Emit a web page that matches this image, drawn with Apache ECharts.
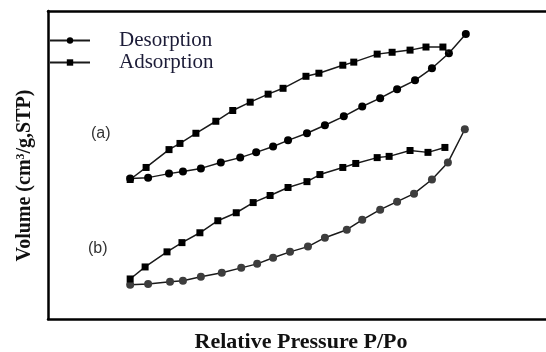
<!DOCTYPE html>
<html>
<head>
<meta charset="utf-8">
<script src="https://cdn.jsdelivr.net/npm/echarts@6/dist/echarts.min.js"></script>
<style>
html,body{margin:0;padding:0;background:#fff;}
#chart{width:546px;height:352px;}
</style>
</head>
<body>
<div id="chart"></div>
<script>
// Sample (a)
const aAdsX = [0.165,0.197,0.243,0.265,0.297,0.337,0.371,0.406,0.442,0.472,0.518,0.544,0.592,0.614,0.661,0.691,0.727,0.759,0.793,0.805];
const aAdsY = [45.3,49.2,55.0,57.0,60.3,64.2,67.7,70.4,73.0,74.9,78.8,79.8,82.4,83.4,86.0,86.6,87.3,88.3,88.3,86.3];
const aDesX = [0.165,0.201,0.243,0.271,0.307,0.347,0.386,0.418,0.452,0.482,0.520,0.556,0.594,0.631,0.667,0.701,0.737,0.771,0.805,0.839];
const aDesY = [45.6,45.9,47.2,47.9,48.9,50.8,52.4,54.1,56.0,58.0,60.3,62.9,65.8,69.0,71.7,74.6,77.5,81.4,86.3,92.5];
// Sample (b)
const bAdsX = [0.165,0.195,0.239,0.269,0.305,0.341,0.378,0.412,0.446,0.482,0.520,0.546,0.592,0.618,0.661,0.685,0.727,0.763,0.797];
const bAdsY = [13.0,16.9,21.8,24.8,28.0,31.9,34.5,37.8,40.1,42.7,44.6,46.9,49.2,50.5,52.4,52.8,54.7,54.1,55.7];
const bDesX = [0.165,0.201,0.245,0.271,0.307,0.349,0.388,0.420,0.452,0.486,0.522,0.556,0.600,0.631,0.667,0.701,0.735,0.771,0.803,0.837];
const bDesY = [11.1,11.4,12.1,12.4,13.7,15.0,16.6,17.9,19.9,21.8,23.5,26.4,29.0,32.2,35.5,38.1,40.7,45.3,50.8,61.6];

const legendNames = ['Desorption','Adsorption'];
const sampleLabels = ['(a)','(b)'];
const xTitle = 'Relative Pressure P/Po';

function pairs(xs, ys){ return xs.map((x,i)=>[x, ys[i]]); }

const chart = echarts.init(document.getElementById('chart'), null, {renderer:'canvas'});
const serif = 'Liberation Serif';
const lineC = '#1a1a1a';

function series(name, xs, ys, symbol, color, hideLast){
  return {
    name: name, type:'line', data: pairs(xs, ys),
    symbol: symbol,
    symbolSize: function(v, p){ return (hideLast && p.dataIndex === xs.length-1) ? 0 : (symbol==='circle' ? 8 : 7); },
    lineStyle:{color:lineC, width:1.5},
    itemStyle:{color:color, borderWidth:0},
    emphasis:{disabled:true},
    animation:false,
    z: symbol==='rect' ? 3 : 2
  };
}

chart.setOption({
  backgroundColor:'#ffffff',
  animation:false,
  grid:{left:48, right:0, top:11, bottom:33, outerBoundsMode:'none', containLabel:false},
  legend:{
    orient:'vertical', left:44, top:25, itemWidth:40, itemHeight:8, itemGap:1,
    data: legendNames,
    textStyle:{fontFamily:serif, fontSize:21, color:'#1c1c38', padding:[0,0,0,24]},
    selectedMode:false
  },
  xAxis:[{
    type:'value', min:0, max:1,
    axisLine:{show:true, onZero:false, lineStyle:{color:'#000', width:2.5}},
    axisTick:{show:false}, axisLabel:{show:false}, splitLine:{show:false},
    name: xTitle, nameLocation:'middle', nameGap:12,
    nameTextStyle:{fontFamily:serif, fontWeight:'bold', fontSize:22, color:'#111', padding:[0,0,0,8]}
  },{
    type:'value', min:0, max:1, position:'top',
    axisLine:{show:true, onZero:false, lineStyle:{color:'#000', width:2.5}},
    axisTick:{show:false}, axisLabel:{show:false}, splitLine:{show:false}
  }],
  yAxis:[{
    type:'value', min:0, max:100,
    axisLine:{show:true, onZero:false, lineStyle:{color:'#000', width:2.5}},
    axisTick:{show:false}, axisLabel:{show:false}, splitLine:{show:false},
    name:'Volume (cm{sup|3}/g,STP)', nameLocation:'middle', nameGap:13, nameRotate:90,
    nameTextStyle:{fontFamily:serif, fontWeight:'bold', fontSize:20, color:'#111', padding:[0,21,0,0],
      rich:{sup:{fontFamily:serif, fontWeight:'bold', fontSize:12, color:'#111', verticalAlign:'top', padding:[0,0,8,0]}}}
  },{
    type:'value', min:0, max:100, position:'right',
    axisLine:{show:true, onZero:false, lineStyle:{color:'#e4e4e4', width:1}},
    axisTick:{show:false}, axisLabel:{show:false}, splitLine:{show:false}
  }],
  graphic:[
    {type:'text', left:91, top:126, style:{text:sampleLabels[0], fontFamily:'Liberation Sans', fontSize:16, fill:'#333'}},
    {type:'text', left:88, top:241, style:{text:sampleLabels[1], fontFamily:'Liberation Sans', fontSize:16, fill:'#333'}}
  ],
  series:[
    series('Desorption', aDesX, aDesY, 'circle', '#000', false),
    series('Adsorption', aAdsX, aAdsY, 'rect', '#000', true),
    series('Desorption', bDesX, bDesY, 'circle', '#3d3d3d', false),
    series('Adsorption', bAdsX, bAdsY, 'rect', '#000', false)
  ]
});
</script>
</body>
</html>
